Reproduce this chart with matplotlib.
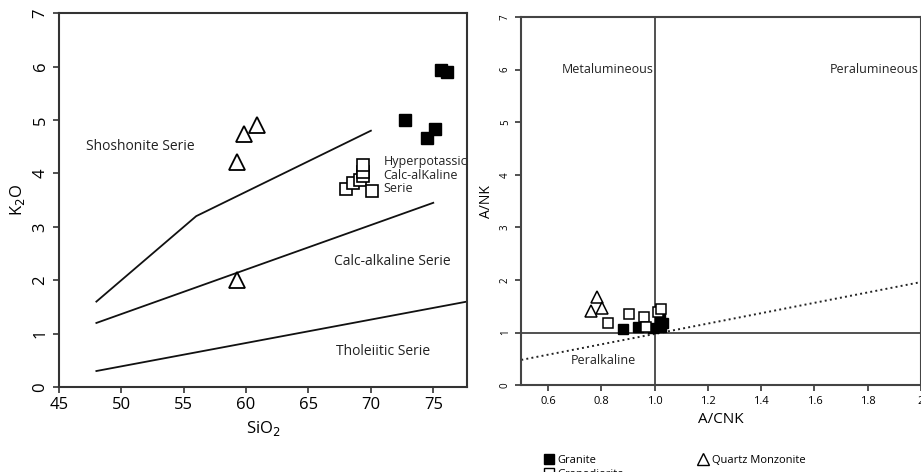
import numpy as np
import matplotlib
matplotlib.use('Agg')
import matplotlib.pyplot as plt
from matplotlib.lines import Line2D

plt.rcParams['font.family'] = ['Open Sans', 'DejaVu Sans']

# ---- left panel: K2O vs SiO2 ----
granite_sio2 = [72.7, 74.5, 75.1, 75.6, 76.1]
granite_k2o = [5.00, 4.67, 4.84, 5.93, 5.90]
grd_sio2 = [68.0, 68.6, 69.1, 69.4, 69.4, 69.4, 70.1]
grd_k2o = [3.71, 3.83, 3.88, 3.95, 4.02, 4.15, 3.68]
qm_sio2 = [59.3, 59.8, 60.9, 59.3]
qm_k2o = [4.22, 4.74, 4.91, 2.00]

# series boundaries
shosh_x = [48, 56, 70]
shosh_y = [1.6, 3.2, 4.8]
calc_x = [48, 75]
calc_y = [1.2, 3.45]
thol_x = [48, 77.7]
thol_y = [0.3, 1.6]

# ---- right panel: A/NK vs A/CNK ----
granite_acnk = [0.88, 0.938, 0.994, 1.019, 1.025, 1.03]
granite_ank = [1.06, 1.10, 1.08, 1.25, 1.11, 1.18]
grd_acnk = [0.827, 0.905, 0.96, 0.969, 1.012, 1.025]
grd_ank = [1.18, 1.36, 1.29, 1.10, 1.39, 1.44]
qm_acnk = [0.784, 0.762, 0.803]
qm_ank = [1.68, 1.41, 1.46]
dotted_x = [0.5, 2.0]
dotted_y = [0.48, 1.96]

edge = '#333333'
fig = plt.figure(figsize=(9.21, 4.72), dpi=100)

ax1 = fig.add_axes([0.064, 0.180, 0.443, 0.792])
for s in ax1.spines.values():
    s.set_linewidth(1.5)
    s.set_color(edge)
ax1.plot(shosh_x, shosh_y, color='#111111', lw=1.3)
ax1.plot(calc_x, calc_y, color='#111111', lw=1.3)
ax1.plot(thol_x, thol_y, color='#111111', lw=1.3)
ax1.plot(granite_sio2, granite_k2o, 's', color='black', ms=8, ls='none')
ax1.plot(grd_sio2, grd_k2o, 's', mfc='white', mec='black', mew=1.2, ms=8.5, ls='none')
ax1.plot(qm_sio2, qm_k2o, '^', mfc='white', mec='black', mew=1.3, ms=12, ls='none')
ax1.set_xlim(45, 77.7)
ax1.set_ylim(0, 7)
ax1.set_xticks([45, 50, 55, 60, 65, 70, 75])
ax1.set_yticks(range(8))
ax1.tick_params(axis='both', direction='out', length=4, width=1.2, color=edge, labelsize=12)
ax1.tick_params(axis='y', labelrotation=90)
for lb in ax1.get_yticklabels():
    lb.set_va('center')
ax1.set_xlabel('SiO$_2$', fontsize=12)
ax1.set_ylabel('K$_2$O', fontsize=12)
ax1.text(51.5, 4.5, 'Shoshonite Serie', fontsize=10, ha='center', va='center', color='#222222')
ax1.text(71.0, 3.97, 'Hyperpotassic\nCalc-alKaline\nSerie', fontsize=9, ha='left', va='center',
         color='#222222', linespacing=1.05, clip_on=False)
ax1.text(71.7, 2.35, 'Calc-alkaline Serie', fontsize=10, ha='center', va='center', color='#222222')
ax1.text(71.0, 0.66, 'Tholeiitic Serie', fontsize=10, ha='center', va='center', color='#222222')

ax2 = fig.add_axes([0.566, 0.184, 0.434, 0.780])
for s in ax2.spines.values():
    s.set_linewidth(1.5)
    s.set_color('#444444')
ax2.axvline(1.0, color='#333333', lw=1.2)
ax2.axhline(1.0, color='#333333', lw=1.2)
ax2.plot(dotted_x, dotted_y, ls=':', color='#222222', lw=1.4)
ax2.plot(granite_acnk, granite_ank, 's', color='black', ms=7, ls='none', label='Granite')
ax2.plot(grd_acnk, grd_ank, 's', mfc='white', mec='black', mew=1.1, ms=7, ls='none', label='Granodiorite')
ax2.plot(qm_acnk, qm_ank, '^', mfc='white', mec='black', mew=1.1, ms=9, ls='none', label='Quartz Monzonite')
ax2.set_xlim(0.5, 2.0)
ax2.set_ylim(0, 7)
ax2.set_xticks([0.6, 0.8, 1.0, 1.2, 1.4, 1.6, 1.8, 2.0])
ax2.set_xticklabels(['0.6', '0.8', '1.0', '1.2', '1.4', '1.6', '1.8', '2'])
ax2.set_yticks(range(8))
ax2.tick_params(axis='both', direction='out', length=4, width=1.2, color=edge, labelsize=8)
ax2.tick_params(axis='y', labelrotation=90, labelsize=7)
for lb in ax2.get_yticklabels():
    lb.set_va('center')
ax2.set_xlabel('A/CNK', fontsize=11)
ax2.set_ylabel('A/NK', fontsize=10)
ax2.text(0.995, 6.0, 'Metalumineous', fontsize=9, ha='right', va='center', color='#222222')
ax2.text(1.99, 6.0, 'Peralumineous', fontsize=9, ha='right', va='center', color='#222222')
ax2.text(0.807, 0.47, 'Peralkaline', fontsize=9, ha='center', va='center', color='#222222')

handles = [Line2D([], [], marker='s', color='black', ms=7, ls='none'),
           Line2D([], [], marker='s', mfc='white', mec='black', ms=7, ls='none'),
           Line2D([], [], marker='^', mfc='white', mec='black', ms=9, ls='none')]
fig.legend(handles, ['Granite', 'Granodiorite', 'Quartz Monzonite'], ncol=2,
           loc='upper left', bbox_to_anchor=(0.585, 0.046), frameon=False, fontsize=8,
           handletextpad=0.3, columnspacing=6.6, labelspacing=0.3, handlelength=1.0,
           borderaxespad=0)

fig.savefig('out.png', dpi=100)
